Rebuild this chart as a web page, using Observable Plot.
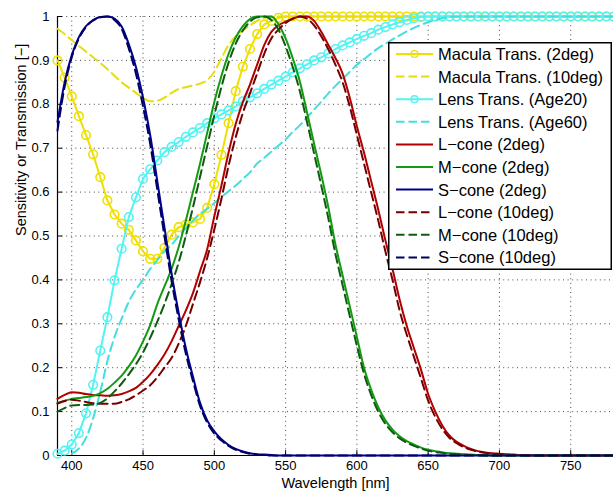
<!DOCTYPE html>
<html><head><meta charset="utf-8">
<script src="https://cdn.jsdelivr.net/npm/d3@7"></script>
<script src="https://cdn.jsdelivr.net/npm/@observablehq/plot@0.6"></script>
<style>
body{margin:0;background:#fff;}
#chart{position:relative;width:613px;height:491px;font-family:"Liberation Sans",Arial,Helvetica,sans-serif;}
#legend{position:absolute;left:388px;top:42px;}
</style></head><body><div id="chart"></div>
<script>
// Wavelength grid (nm)
const wavelengths = [
 390,395,400,405,410,415,420,425,430,435,
 440,445,450,455,460,465,470,475,480,485,
 490,495,500,505,510,515,520,525,530,535,
 540,545,550,555,560,565,570,575,580,585,
 590,595,600,605,610,615,620,625,630,635,
 640,645,650,655,660,665,670,675,680,685,
 690,695,700,705,710,715,720,725,730,735,
 740,745,750,755,760,765,770,775,780];

const xTicks = [400,450,500,550,600,650,700,750];
const yTicks = [0,0.1,0.2,0.3,0.4,0.5,0.6,0.7,0.8,0.9,1];

const macula2 = [
 0.900,0.861,0.818,0.773,0.730,0.686,0.634,0.581,0.549,0.528,
 0.514,0.490,0.465,0.448,0.448,0.473,0.503,0.520,0.526,0.531,
 0.539,0.564,0.618,0.685,0.757,0.830,0.886,0.926,0.960,0.982,
 0.990,0.997,1,1,1,1,1,1,1,1,
 1,1,1,1,1,1,1,1,1,1,
 1,1,1,1,1,1,1,1,1,1,
 1,1,1,1,1,1,1,1,1,1,
 1,1,1,1,1,1,1,1,1];
const macula10 = [
 0.972,0.960,0.946,0.933,0.920,0.907,0.894,0.880,0.865,0.850,
 0.838,0.826,0.815,0.807,0.808,0.815,0.826,0.835,0.839,0.843,
 0.847,0.855,0.874,0.905,0.935,0.955,0.968,0.980,0.990,0.997,
 1,1,1,1,1,1,1,1,1,1,
 1,1,1,1,1,1,1,1,1,1,
 1,1,1,1,1,1,1,1,1,1,
 1,1,1,1,1,1,1,1,1,1,
 1,1,1,1,1,1,1,1,1];
const lens20 = [
 0.004,0.011,0.025,0.051,0.096,0.161,0.239,0.315,0.399,0.471,
 0.543,0.588,0.630,0.652,0.672,0.691,0.703,0.714,0.726,0.736,
 0.746,0.757,0.768,0.777,0.786,0.795,0.807,0.816,0.825,0.835,
 0.845,0.854,0.863,0.873,0.882,0.891,0.900,0.907,0.916,0.926,
 0.934,0.941,0.949,0.956,0.962,0.970,0.976,0.982,0.987,0.992,
 0.996,0.999,1,1,1,1,1,1,1,1,
 1,1,1,1,1,1,1,1,1,1,
 1,1,1,1,1,1,1,1,1];
const lens60 = [
 NaN,NaN,0.004,0.016,0.040,0.085,0.145,0.215,0.270,0.312,
 0.350,0.378,0.400,0.425,0.445,0.465,0.480,0.500,0.518,0.535,
 0.550,0.562,0.575,0.589,0.602,0.615,0.630,0.645,0.665,0.678,
 0.692,0.706,0.720,0.737,0.752,0.770,0.788,0.806,0.825,0.842,
 0.858,0.874,0.890,0.903,0.916,0.928,0.938,0.948,0.957,0.966,
 0.974,0.981,0.987,0.992,0.996,0.999,1,1,1,1,
 1,1,1,1,1,1,1,1,1,1,
 1,1,1,1,1,1,1,1,1];
const lCone2 = [
 0.129,0.138,0.144,0.143,0.140,0.138,0.137,0.136,0.137,0.140,
 0.146,0.154,0.168,0.185,0.206,0.230,0.260,0.295,0.330,0.370,
 0.420,0.470,0.545,0.615,0.690,0.755,0.805,0.845,0.890,0.935,
 0.965,0.980,0.988,0.995,1.000,1.000,0.990,0.965,0.935,0.905,
 0.870,0.815,0.750,0.690,0.625,0.560,0.490,0.425,0.355,0.295,
 0.245,0.195,0.140,0.100,0.068,0.045,0.031,0.022,0.015,0.010,
 0.007,0.005,0.004,0.003,0.002,0.001,0.001,0,0,0,
 0,0,0,0,0,0,0,0,0];
const mCone2 = [
 0.120,0.125,0.129,0.131,0.133,0.136,0.142,0.152,0.166,0.182,
 0.203,0.228,0.260,0.297,0.345,0.385,0.425,0.475,0.535,0.600,
 0.665,0.735,0.805,0.865,0.915,0.952,0.978,0.994,1.000,1.000,
 1.000,0.982,0.950,0.905,0.852,0.782,0.710,0.640,0.565,0.480,
 0.410,0.340,0.270,0.200,0.150,0.110,0.080,0.059,0.044,0.033,
 0.025,0.018,0.013,0.010,0.007,0.005,0.004,0.003,0.002,0.001,
 0.001,0,0,0,0,0,0,0,0,0,
 0,0,0,0,0,0,0,0,0];
const sCone2 = [
 0.760,0.850,0.912,0.953,0.978,0.992,0.999,1.000,0.995,0.977,
 0.937,0.885,0.815,0.730,0.625,0.520,0.415,0.325,0.245,0.180,
 0.120,0.080,0.055,0.037,0.024,0.015,0.009,0.005,0.003,0.002,
 0.001,0,0,0,0,0,0,0,0,0,
 0,0,0,0,0,0,0,0,0,0,
 0,0,0,0,0,0,0,0,0,0,
 0,0,0,0,0,0,0,0,0,0,
 0,0,0,0,0,0,0,0,0];
const lCone10 = [
 0.118,0.124,0.127,0.125,0.122,0.119,0.118,0.118,0.118,0.122,
 0.128,0.137,0.148,0.160,0.178,0.200,0.222,0.255,0.295,0.345,
 0.395,0.450,0.515,0.585,0.660,0.725,0.780,0.825,0.870,0.915,
 0.950,0.970,0.985,0.995,1.000,0.995,0.980,0.955,0.925,0.890,
 0.850,0.795,0.730,0.665,0.600,0.535,0.465,0.400,0.330,0.275,
 0.225,0.175,0.125,0.088,0.060,0.040,0.028,0.019,0.013,0.009,
 0.006,0.004,0.003,0.002,0.001,0.001,0,0,0,0,
 0,0,0,0,0,0,0,0,0];
const mCone10 = [
 0.100,0.108,0.114,0.115,0.115,0.116,0.120,0.130,0.146,0.164,
 0.185,0.208,0.235,0.268,0.305,0.345,0.390,0.440,0.500,0.565,
 0.635,0.705,0.775,0.840,0.895,0.938,0.968,0.988,0.998,1.000,
 0.992,0.970,0.932,0.885,0.830,0.760,0.688,0.615,0.540,0.458,
 0.388,0.318,0.250,0.186,0.138,0.100,0.072,0.053,0.039,0.029,
 0.022,0.016,0.011,0.008,0.006,0.004,0.003,0.002,0.001,0.001,
 0,0,0,0,0,0,0,0,0,0,
 0,0,0,0,0,0,0,0,0];
const sCone10 = [
 0.740,0.840,0.907,0.950,0.976,0.991,0.998,1.000,0.992,0.972,
 0.927,0.870,0.795,0.710,0.605,0.500,0.398,0.310,0.232,0.170,
 0.113,0.075,0.050,0.034,0.022,0.013,0.008,0.004,0.002,0.001,
 0,0,0,0,0,0,0,0,0,0,
 0,0,0,0,0,0,0,0,0,0,
 0,0,0,0,0,0,0,0,0,0,
 0,0,0,0,0,0,0,0,0,0,
 0,0,0,0,0,0,0,0,0];

const seriesNames = ["Macula Trans. (2deg)","Macula Trans. (10deg)","Lens Trans. (Age20)","Lens Trans. (Age60)",
 "L\u2212cone (2deg)","M\u2212cone (2deg)","S\u2212cone (2deg)","L\u2212cone (10deg)","M\u2212cone (10deg)","S\u2212cone (10deg)"];
const seriesValues = [macula2, macula10, lens20, lens60, lCone2, mCone2, sCone2, lCone10, mCone10, sCone10];
const seriesColors = ["#eee000","#e6dc10","#55f2f2","#44dede","#b00000","#129a12","#00008e","#760000","#0e5c0e","#000062"];
const seriesDashed = [false,true,false,true,false,false,false,true,true,true];
const seriesMarker = [true,false,true,false,false,false,false,false,false,false];
const DASH = "9,5";

const series = seriesNames.map((name,k)=>({
  name, color: seriesColors[k], dashed: seriesDashed[k], marker: seriesMarker[k],
  rows: wavelengths.map((w,i)=>({w, v: seriesValues[k][i]}))
}));

const marks = [
  Plot.gridX(xTicks, {stroke:"#333", strokeOpacity:0.9, strokeDasharray:"1,3.6", strokeWidth:1}),
  Plot.gridY(yTicks.filter(d=>d>0), {stroke:"#333", strokeOpacity:0.9, strokeDasharray:"1,3.6", strokeWidth:1}),
  Plot.ruleY([0], {stroke:"black", strokeWidth:1.2}),
  Plot.ruleX([390], {stroke:"black", strokeWidth:1.2}),
  Plot.ruleX(xTicks, {x:d=>d, y1:0, y2:0.011, stroke:"black", strokeWidth:1}),
  Plot.ruleY(yTicks, {y:d=>d, x1:390, x2:393.6, stroke:"black", strokeWidth:1}),
  Plot.axisX(xTicks, {tickSize:0, tickPadding:5, label:null, fontSize:13, tickFormat:d=>String(d)}),
  Plot.axisY(yTicks, {tickSize:0, tickPadding:8, label:null, fontSize:13, tickFormat:d=>String(+d.toFixed(1))}),
  Plot.text(["Sensitivity or Transmission [\u2212]"], {frameAnchor:"left", dx:-36, rotate:-90, fontSize:14.5, fill:"black"}),
  Plot.text(["Wavelength [nm]"], {frameAnchor:"bottom", dy:28, fontSize:14.5, fill:"black", lineAnchor:"middle"})
];
for (const s of series) {
  marks.push(Plot.line(s.rows, {x:"w", y:"v", stroke:s.color, strokeWidth:2,
    strokeDasharray: s.dashed ? DASH : null, curve: s.marker ? "linear" : "monotone-x"}));
  if (s.marker) marks.push(Plot.dot(s.rows, {x:"w", y:"v", r:4.3, stroke:s.color, fill:"none", strokeWidth:1.6}));
}

const chart = Plot.plot({
  width:613, height:491,
  marginLeft:57, marginRight:0, marginTop:16, marginBottom:36,
  x:{domain:[390,780]},
  y:{domain:[0,1]},
  style:{fontFamily:'"Liberation Sans",Arial,Helvetica,sans-serif', fontSize:"13px", background:"white", color:"black", overflow:"visible"},
  marks
});
document.getElementById("chart").appendChild(chart);

// Legend
const LW = 224, LH = 228, rowH = 22.6, row0 = 12;
const leg = d3.create("svg").attr("id","legend").attr("width",LW).attr("height",LH)
  .style("position","absolute").style("left","388px").style("top","42px");
leg.append("rect").attr("x",0.75).attr("y",0.75).attr("width",LW-1.5).attr("height",LH-1.5)
  .attr("fill","white").attr("stroke","black").attr("stroke-width",1.5);
series.forEach((s,i)=>{
  const y = row0 + i*rowH;
  leg.append("line").attr("x1",8).attr("x2",45).attr("y1",y).attr("y2",y)
    .attr("stroke",s.color).attr("stroke-width",2).attr("stroke-dasharray", s.dashed?"8.5,4":null);
  if (s.marker) leg.append("circle").attr("cx",26.5).attr("cy",y).attr("r",3.4)
    .attr("fill","none").attr("stroke",s.color).attr("stroke-width",1.4);
  leg.append("text").attr("x",50).attr("y",y).attr("dy","0.36em")
    .attr("font-size","16.5px").attr("font-family",'"Liberation Sans",Arial,Helvetica,sans-serif')
    .attr("fill","black").text(s.name);
});
document.getElementById("chart").appendChild(leg.node());
</script></body></html>
